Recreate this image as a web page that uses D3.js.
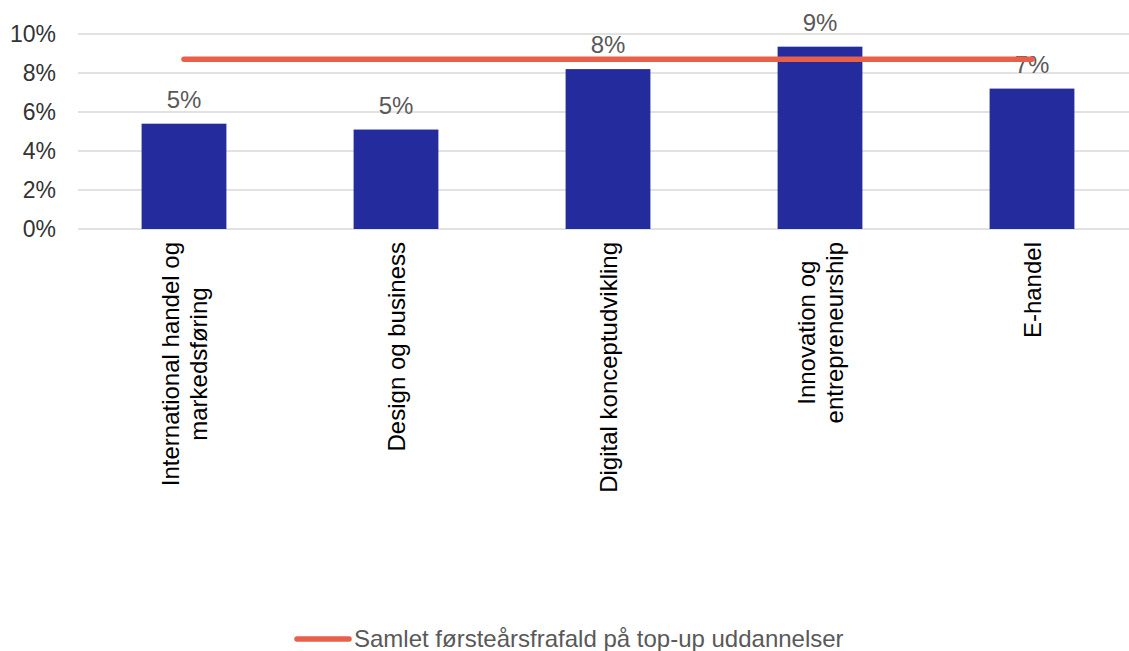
<!DOCTYPE html>
<html>
<head>
<meta charset="utf-8">
<script src="https://cdn.jsdelivr.net/npm/d3@7"></script>
<style>
  body { margin: 0; background: #fff; }
  svg { display: block; font-family: "Liberation Sans", Arial, sans-serif; }
</style>
</head>
<body>
<div id="chart"></div>
<script>
// data
var programmes = [
  ["International handel og", "markedsføring"],
  ["Design og business"],
  ["Digital konceptudvikling"],
  ["Innovation og", "entrepreneurship"],
  ["E-handel"]
];
var dropout = [5.4, 5.1, 8.2, 9.35, 7.2];
var overall = 8.7;
var yTicks = [0, 2, 4, 6, 8, 10];
var legendLabel = "Samlet førsteårsfrafald på top-up uddannelser";

var W = 1129, H = 651;
var svg = d3.select("#chart").append("svg")
    .attr("width", W)
    .attr("height", H);

var x = d3.scaleBand()
    .domain(d3.range(programmes.length))
    .range([78, 1138])
    .paddingInner(0.6)
    .paddingOuter(0.3);

var y = d3.scaleLinear()
    .domain([0, 10])
    .range([229, 34]);

// gridlines
svg.append("g").selectAll("line")
    .data(yTicks)
    .enter().append("line")
    .attr("x1", 78).attr("x2", W)
    .attr("y1", function(d){ return y(d); })
    .attr("y2", function(d){ return y(d); })
    .attr("stroke", "#d9d9d9")
    .attr("stroke-width", 1.5);

// y axis labels
var yAxis = d3.axisLeft(y).tickValues(yTicks).tickSize(0).tickPadding(0)
    .tickFormat(function(d){ return d + "%"; });
svg.append("g")
    .attr("transform", "translate(56,0)")
    .call(yAxis)
    .call(function(g){ g.select(".domain").remove(); })
    .selectAll("text")
    .attr("font-size", 23)
    .attr("font-family", "Liberation Sans, Arial, sans-serif")
    .attr("fill", "#333");

// bars
svg.append("g").selectAll("rect")
    .data(dropout)
    .enter().append("rect")
    .attr("x", function(d, i){ return x(i); })
    .attr("y", function(d){ return y(d); })
    .attr("width", x.bandwidth())
    .attr("height", function(d){ return y(0) - y(d); })
    .attr("fill", "#232b9d");

// value labels
var pct = d3.format(".0%");
svg.append("g").selectAll("text")
    .data(dropout)
    .enter().append("text")
    .attr("x", function(d, i){ return x(i) + x.bandwidth() / 2; })
    .attr("y", function(d){ return y(d) - 16; })
    .attr("text-anchor", "middle")
    .attr("font-size", 24)
    .attr("fill", "#595959")
    .text(function(d){ return pct(d / 100); });

// overall line
var first = x(0) + x.bandwidth() / 2;
var last = x(programmes.length - 1) + x.bandwidth() / 2;
svg.append("line")
    .attr("x1", first).attr("x2", last)
    .attr("y1", y(overall)).attr("y2", y(overall))
    .attr("stroke", "#e8604a")
    .attr("stroke-width", 5.5)
    .attr("stroke-linecap", "round");

// rotated category labels
var lineH = 28;
programmes.forEach(function(lines, i){
    var cx = x(i) + x.bandwidth() / 2;
    var g = svg.append("g");
    var texts = lines.map(function(t, k){
        return g.append("text")
            .attr("text-anchor", "middle")
            .attr("font-size", 24)
            .attr("fill", "#000")
            .text(t);
    });
    var maxW = d3.max(texts, function(t){ return t.node().getComputedTextLength(); });
    var top = 242;
    texts.forEach(function(t, k){
        var base = cx + 9 - (lines.length - 1) * lineH / 2 + k * lineH;
        t.attr("transform", "translate(" + base + "," + (top + maxW / 2) + ") rotate(-90)");
    });
});

// legend
var lg = svg.append("g").attr("transform", "translate(0,639)");
lg.append("line")
    .attr("x1", 297).attr("x2", 349)
    .attr("y1", 0).attr("y2", 0)
    .attr("stroke", "#e8604a")
    .attr("stroke-width", 5.5)
    .attr("stroke-linecap", "round");
lg.append("text")
    .attr("x", 354)
    .attr("y", 8)
    .attr("font-size", 24)
    .attr("fill", "#595959")
    .text(legendLabel);
</script>
</body>
</html>
